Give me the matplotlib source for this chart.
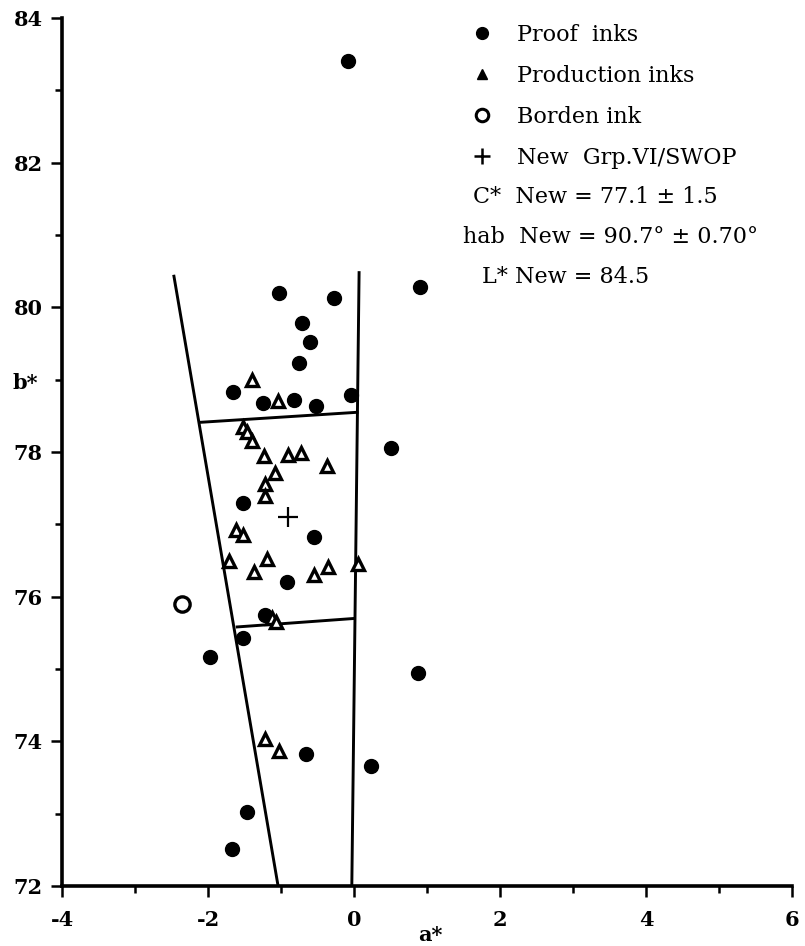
import matplotlib
matplotlib.use("Agg")
import matplotlib.pyplot as plt
from matplotlib.lines import Line2D
from matplotlib.ticker import MultipleLocator

# Данные (a*, b*)
proof_a = [-0.08, -1.03, -0.27, -0.71, -0.60, -0.75, -1.66, -1.25, -0.82, -0.52, -0.04, 0.90,
           0.50, -1.52, -0.55, -0.92, -1.22, -1.52, -1.97, 0.88, -0.66, 0.23, -1.47, -1.67]
proof_b = [83.41, 80.20, 80.13, 79.78, 79.52, 79.23, 78.83, 78.68, 78.72, 78.64, 78.79, 80.28,
           78.05, 77.29, 76.82, 76.20, 75.75, 75.43, 75.17, 74.94, 73.82, 73.66, 73.02, 72.51]

prod_a = [-1.40, -1.04, -1.52, -1.47, -1.40, -1.23, -0.90, -0.73, -0.37, -1.08, -1.22, -1.22,
          -1.62, -1.52, -1.71, -1.19, -1.37, -0.36, -0.55, 0.05, -1.12, -1.07, -1.22, -1.03]
prod_b = [78.99, 78.70, 78.35, 78.27, 78.15, 77.94, 77.96, 77.99, 77.80, 77.71, 77.56, 77.39,
          76.92, 76.85, 76.49, 76.52, 76.34, 76.41, 76.30, 76.45, 75.70, 75.65, 74.03, 73.87]

borden_a = [-2.36]
borden_b = [75.90]

new_a = [-0.90]
new_b = [77.10]

# Границы допуска
left_a, left_b = [-2.47, -1.04], [80.45, 72.0]
right_a, right_b = [0.07, -0.03], [80.50, 72.0]
upper_a, upper_b = [-2.11, 0.06], [78.41, 78.55]
lower_a, lower_b = [-1.62, 0.02], [75.58, 75.70]

x_ticks = [-4, -2, 0, 2, 4, 6]
y_ticks = [72, 74, 76, 78, 80, 82, 84]

serif = ['DejaVu Serif']

fig = plt.figure(figsize=(8.05, 9.46), dpi=100)
ax = fig.add_axes([62 / 805, 60 / 946, 730 / 805, 868 / 946])

lw = 2.1
for xs, ys in [(left_a, left_b), (right_a, right_b), (upper_a, upper_b), (lower_a, lower_b)]:
    ax.plot(xs, ys, color='black', lw=lw, solid_capstyle='butt', zorder=2)

ax.plot(proof_a, proof_b, 'o', color='black', ms=10, zorder=3)
ax.plot(prod_a, prod_b, '^', mfc='white', mec='black', mew=2.4, ms=8.5, zorder=4)
ax.plot(borden_a, borden_b, 'o', mfc='white', mec='black', mew=2.4, ms=11, zorder=4)
ax.plot(new_a, new_b, '+', color='black', mew=1.6, ms=15, zorder=4)

ax.set_xlim(-4, 6)
ax.set_ylim(72, 84)
ax.set_xticks(x_ticks)
ax.set_yticks(y_ticks)
ax.xaxis.set_minor_locator(MultipleLocator(1))
ax.yaxis.set_minor_locator(MultipleLocator(1))
ax.set_xticklabels([str(t) for t in x_ticks], fontfamily=serif, fontweight='bold', fontsize=15)
ax.set_yticklabels([str(t) for t in y_ticks], fontfamily=serif, fontweight='bold', fontsize=15)
ax.tick_params(which='major', direction='out', length=8, width=1.8)
ax.tick_params(axis='x', which='major', pad=9)
ax.tick_params(axis='y', which='major', pad=6)
ax.tick_params(which='minor', direction='out', length=5, width=1.8)

for s in ['top', 'right']:
    ax.spines[s].set_visible(False)
for s in ['left', 'bottom']:
    ax.spines[s].set_linewidth(2.6)

# Подписи осей
fig.text(25 / 805, 1 - 383 / 946, 'b*', ha='center', va='center',
         fontfamily=serif, fontweight='bold', fontsize=15)
ax.text(1.05, -0.057, 'a*', transform=ax.get_xaxis_transform(), ha='center', va='center',
        fontfamily=serif, fontweight='bold', fontsize=15)

# Легенда
handles = [
    Line2D([], [], ls='', marker='o', color='black', ms=8.5),
    Line2D([], [], ls='', marker='^', color='black', ms=7),
    Line2D([], [], ls='', marker='o', mfc='white', mec='black', mew=2.2, ms=9),
    Line2D([], [], ls='', marker='+', color='black', mew=1.8, ms=12),
]
labels = ['Proof  inks', 'Production inks', 'Borden ink', 'New  Grp.VI/SWOP']
leg = ax.legend(handles, labels, loc='upper left', bbox_to_anchor=(471 / 805, 1 - 24 / 946),
                bbox_transform=fig.transFigure, frameon=False, borderpad=0, borderaxespad=0,
                handlelength=1.0, handletextpad=1.07, labelspacing=0.85,
                prop={'family': serif, 'size': 16})

fig.text(473 / 805, 1 - 197 / 946, 'C*  New = 77.1 ± 1.5', ha='left', va='center',
         fontfamily=serif, fontsize=16)
fig.text(463 / 805, 1 - 237 / 946, 'hab  New = 90.7° ± 0.70°', ha='left', va='center',
         fontfamily=serif, fontsize=16)
fig.text(482 / 805, 1 - 277 / 946, 'L* New = 84.5', ha='left', va='center',
         fontfamily=serif, fontsize=16)

fig.savefig('out.png', dpi=100)
